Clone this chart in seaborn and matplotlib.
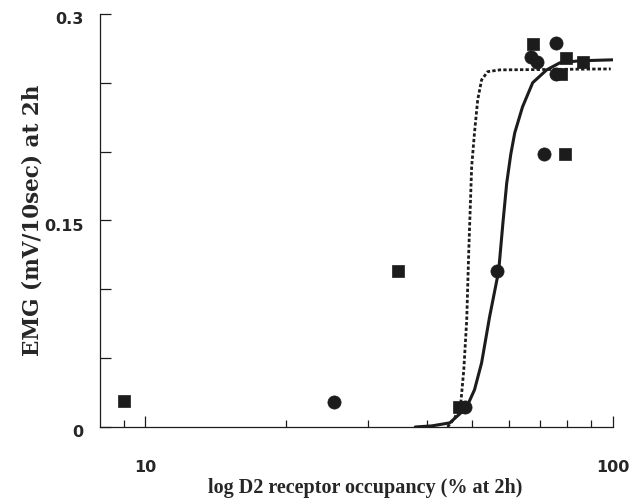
import numpy as np
import pandas as pd
import matplotlib
matplotlib.use("Agg")
import matplotlib.pyplot as plt
import matplotlib.ticker as mticker
from matplotlib.transforms import ScaledTranslation
import seaborn as sns

# --- data ---
# squares
sq_occ = [9.0, 34.7, 46.8, 67.5, 79.6, 86.3, 78.9, 77.4]
sq_emg = [0.019, 0.113, 0.0145, 0.278, 0.268, 0.265, 0.198, 0.256]
# circles
ci_occ = [25.3, 48.2, 56.4, 66.7, 68.7, 75.5, 75.7, 71.1]
ci_emg = [0.018, 0.0145, 0.113, 0.269, 0.265, 0.279, 0.256, 0.198]

# fitted curves
solid_occ = [37.8, 41.0, 44.8, 48.6, 50.6, 52.4, 54.5, 57.0, 58.2, 59.3, 60.5, 61.7, 64.1, 67.4, 72.2, 77.0, 84.9, 100.0]
solid_emg = [0.0, 0.0008, 0.003, 0.0138, 0.027, 0.0465, 0.0799, 0.1133, 0.148, 0.177, 0.198, 0.2136, 0.2324, 0.250, 0.2593, 0.2644, 0.2659, 0.2666]
dot_occ = [44.3, 45.9, 47.3, 48.0, 48.7, 49.2, 49.9, 50.6, 51.4, 52.4, 54.0, 57.3, 99.0]
dot_emg = [0.0, 0.0065, 0.0174, 0.0414, 0.0777, 0.1286, 0.189, 0.2136, 0.2375, 0.252, 0.258, 0.2593, 0.260]

y_ticks = [0, 0.05, 0.10, 0.15, 0.20, 0.25, 0.30]
y_labels = ["0", "", "", "0.15", "", "", "0.3"]

sns.set_style("ticks")
plt.rcParams['font.family'] = ['DejaVu Sans']

ink = "#1c1c1c"
fig = plt.figure(figsize=(6.37, 4.99), dpi=100)
ax = fig.add_axes([0.157, 0.1443, 0.805, 0.828])

sns.lineplot(x=solid_occ, y=solid_emg, ax=ax, color=ink, linewidth=2.2, sort=False)
sns.lineplot(x=dot_occ, y=dot_emg, ax=ax, color=ink, linewidth=2.0, sort=False,
             linestyle=(0, (1.2, 0.8)))
sns.scatterplot(x=sq_occ, y=sq_emg, ax=ax, marker="s", s=85, color=ink, edgecolor=ink, linewidth=0.5, zorder=3)
sns.scatterplot(x=ci_occ, y=ci_emg, ax=ax, marker="o", s=90, color=ink, edgecolor=ink, linewidth=0.5, zorder=3)

ax.set_xscale("log")
ax.set_xlim(8, 100)
ax.set_ylim(0, 0.3)
ax.xaxis.set_major_locator(mticker.FixedLocator([10, 100]))
ax.xaxis.set_major_formatter(mticker.FixedFormatter(["10", "100"]))
ax.xaxis.set_minor_locator(mticker.FixedLocator([9, 20, 30, 40, 50, 60, 70, 80, 90]))
ax.xaxis.set_minor_formatter(mticker.NullFormatter())
ax.yaxis.set_major_locator(mticker.FixedLocator(y_ticks))
ax.yaxis.set_major_formatter(mticker.FixedFormatter(y_labels))

ax.tick_params(axis="both", which="major", direction="in", length=8, width=0.9, color=ink)
ax.tick_params(axis="x", which="minor", direction="in", length=5, width=0.9, color=ink)
ax.tick_params(axis="x", which="major", pad=24, labelsize=11.5)
ax.tick_params(axis="y", which="major", pad=12, labelsize=11.5)
for lab in ax.get_xticklabels() + ax.get_yticklabels():
    lab.set_fontweight("bold")
# y tick labels sit a little below their ticks in the original
shift = ScaledTranslation(0, -3 / 72, fig.dpi_scale_trans)
for lab in ax.get_yticklabels():
    lab.set_transform(lab.get_transform() + shift)

sns.despine(ax=ax)
for sp in ["left", "bottom"]:
    ax.spines[sp].set_linewidth(0.9)
    ax.spines[sp].set_color(ink)

ax.set_xlabel("log D2 receptor occupancy (% at 2h)", fontsize=14.5, fontweight="bold",
              family=['Liberation Serif', 'DejaVu Serif'], labelpad=2)
ax.xaxis.label.set_x(0.517)
ax.set_ylabel("EMG (mV/10sec) at 2h", fontsize=15.5, fontweight="bold",
              family=['DejaVu Serif'], labelpad=0)

fig.savefig("out.png", dpi=100)
